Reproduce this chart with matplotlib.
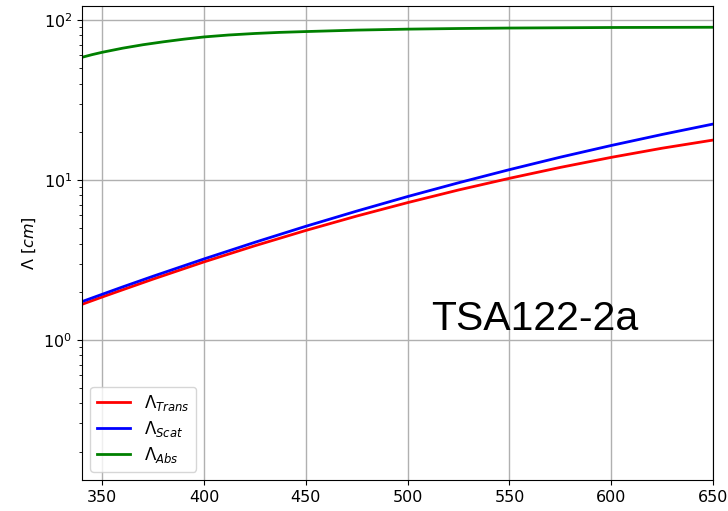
import matplotlib

matplotlib.use("Agg")
import matplotlib.pyplot as plt

# wavelength [nm] and attenuation lengths [cm]
wavelength = [340, 350, 360, 375, 400, 425, 450, 475, 500, 525, 550, 575, 600, 625, 650]
lambda_trans = [1.667, 1.854, 2.056, 2.399, 3.073, 3.877, 4.831, 5.943, 7.211, 8.65, 10.23, 11.97, 13.83, 15.78, 17.74]
lambda_scat = [1.734, 1.928, 2.143, 2.50, 3.206, 4.074, 5.129, 6.383, 7.87, 9.594, 11.59, 13.87, 16.41, 19.23, 22.34]

# absorption curve bends hard at short wavelengths, so read it more finely there
wavelength_abs = [340, 345, 350, 360, 370, 380, 390, 400, 412, 425, 437, 450, 475, 500, 525, 550, 600, 650]
lambda_abs = [58.4, 60.7, 62.8, 66.6, 70.0, 73.0, 75.8, 78.3, 80.5, 82.3, 83.6, 84.6, 86.4, 87.6, 88.4, 89.0, 89.7, 90.0]

sample_name = "TSA122-2a"


def main():
    fig = plt.figure(figsize=(7.28, 5.11), dpi=100)
    ax = fig.add_axes([0.1126, 0.0607, 0.8668, 0.9273])

    ax.plot(wavelength, lambda_trans, color="red", lw=2, label=r"$\Lambda_{Trans}$")
    ax.plot(wavelength, lambda_scat, color="blue", lw=2, label=r"$\Lambda_{Scat}$")
    ax.plot(wavelength_abs, lambda_abs, color="green", lw=2, label=r"$\Lambda_{Abs}$")

    ax.set_yscale("log")
    ax.set_xlim(340, 650)
    ax.set_ylim(0.133, 122)
    ax.set_ylabel(r"$\Lambda\ [cm]$", fontsize=11.5)
    ax.tick_params(labelsize=11.5)
    ax.grid(True, which="major", color="#b0b0b0", lw=1.0)

    ax.legend(loc="lower left", fontsize=12, labelspacing=0.35)
    ax.text(0.553, 0.316, sample_name, transform=ax.transAxes,
            fontsize=29.5, family="Liberation Sans", ha="left", va="baseline")

    fig.savefig("out.png", dpi=100)
    plt.close(fig)


if __name__ == "__main__":
    main()
